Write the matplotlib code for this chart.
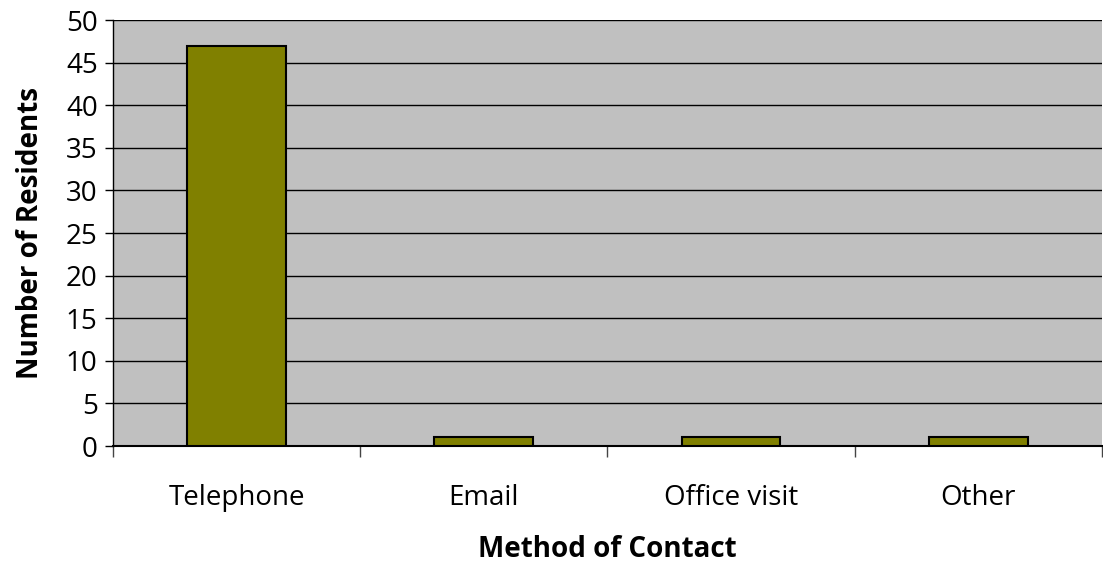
import matplotlib
matplotlib.use("Agg")
import matplotlib.pyplot as plt
import numpy as np

methods = ["Telephone", "Email", "Office visit", "Other"]
residents = [47, 1, 1, 1]

plt.rcParams["font.family"] = ["Open Sans", "DejaVu Sans"]

fig = plt.figure(figsize=(11.03, 5.62), dpi=100)
ax = fig.add_axes([0.1024, 0.2064, 0.8966, 0.758])

x = np.arange(len(methods))
ax.set_facecolor("#c0c0c0")
ax.bar(x, residents, width=0.4, color="#808000", edgecolor="black", linewidth=1.5, zorder=3)

ax.set_xlim(-0.5, len(methods) - 0.5)
ax.set_ylim(0, 50)
ax.set_yticks(range(0, 51, 5))
ax.yaxis.grid(True, color="black", linewidth=1)
ax.set_axisbelow(True)

# category ticks sit between the bars, labels under the bar centres
ax.set_xticks(np.arange(-0.5, len(methods), 1))
ax.set_xticklabels([])
ax.set_xticks(x, minor=True)
ax.set_xticklabels(methods, minor=True, fontsize=20)
ax.tick_params(axis="x", which="major", length=8, width=1, color="#444444")
ax.tick_params(axis="x", which="minor", length=0, pad=27)
ax.tick_params(axis="y", labelsize=20, length=6, width=1, pad=5)

for side in ["top", "right"]:
    ax.spines[side].set_visible(False)
ax.spines["left"].set_linewidth(1)
ax.spines["bottom"].set_linewidth(1.5)

ax.set_xlabel("Method of Contact", fontsize=20, fontweight="bold", labelpad=17)
ax.set_ylabel("Number of Residents", fontsize=20, fontweight="bold", labelpad=15)

fig.savefig("out.png", dpi=100)
